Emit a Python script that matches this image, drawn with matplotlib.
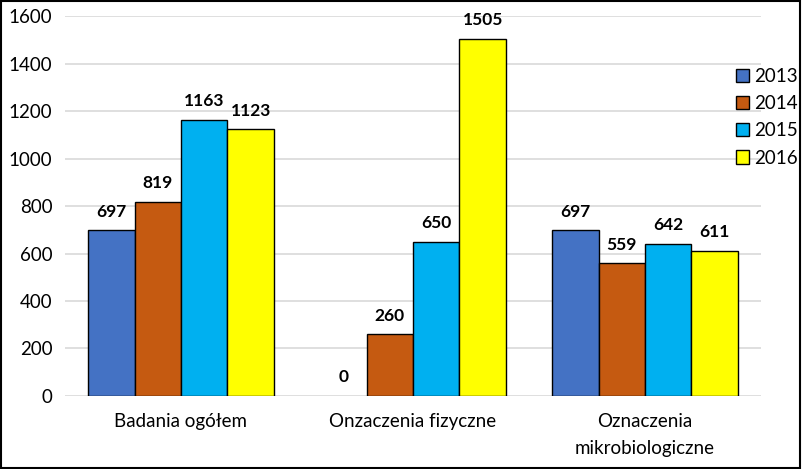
import matplotlib
matplotlib.use("Agg")
import matplotlib.pyplot as plt
import numpy as np
from matplotlib.patches import Rectangle

categories = ["Badania ogółem", "Onzaczenia fizyczne", "Oznaczenia\nmikrobiologiczne"]
years = ["2013", "2014", "2015", "2016"]
values = {
    "2013": [697, 0, 697],
    "2014": [819, 260, 559],
    "2015": [1163, 650, 642],
    "2016": [1123, 1505, 611],
}
colors = ["#4472C4", "#C55A11", "#00B0F0", "#FFFF00"]

plt.rcParams['font.family'] = ['Lato', 'DejaVu Sans']

fig = plt.figure(figsize=(8.02, 4.69), dpi=100)
ax = fig.add_axes([0.081, 0.1557, 0.868, 0.81])

x = np.arange(len(categories))
w = 0.2
for i, y in enumerate(years):
    pos = x + (i - 1.5) * w
    vals = values[y]
    lws = [1.0 if v > 0 else 0 for v in vals]
    ax.bar(pos, vals, width=w, color=colors[i], edgecolor="black",
           linewidth=lws, label=y, zorder=3)
    for p, v in zip(pos, vals):
        ax.text(p, v + 45, str(v), ha="center", va="bottom", fontsize=12.5,
                fontweight="bold", zorder=4)

ax.set_xlim(-0.5, 2.5)
ax.set_ylim(0, 1600)
ax.set_yticks(range(0, 1601, 200))
ax.grid(axis="y", color="#D9D9D9", linewidth=1.2, zorder=0)
for s in ax.spines.values():
    s.set_visible(False)
ax.tick_params(axis="both", length=0, labelsize=13.5)
ax.tick_params(axis="y", pad=9)
ax.tick_params(axis="x", pad=12)
ax.set_xticks(x)
ax.set_xticklabels(categories, linespacing=1.75)

leg = ax.legend(loc="center left", bbox_to_anchor=(0.964, 0.734), frameon=False,
                fontsize=13.5, handlelength=0.7, handleheight=0.7,
                handletextpad=0.25, labelspacing=0.55, borderaxespad=0,
                borderpad=0)
for h in leg.legend_handles:
    h.set_linewidth(1.0)

fig.add_artist(Rectangle((0.001, 0.002), 0.997, 0.996, transform=fig.transFigure,
                         fill=False, edgecolor="black", linewidth=1.5))

fig.savefig("out.png", dpi=100)
